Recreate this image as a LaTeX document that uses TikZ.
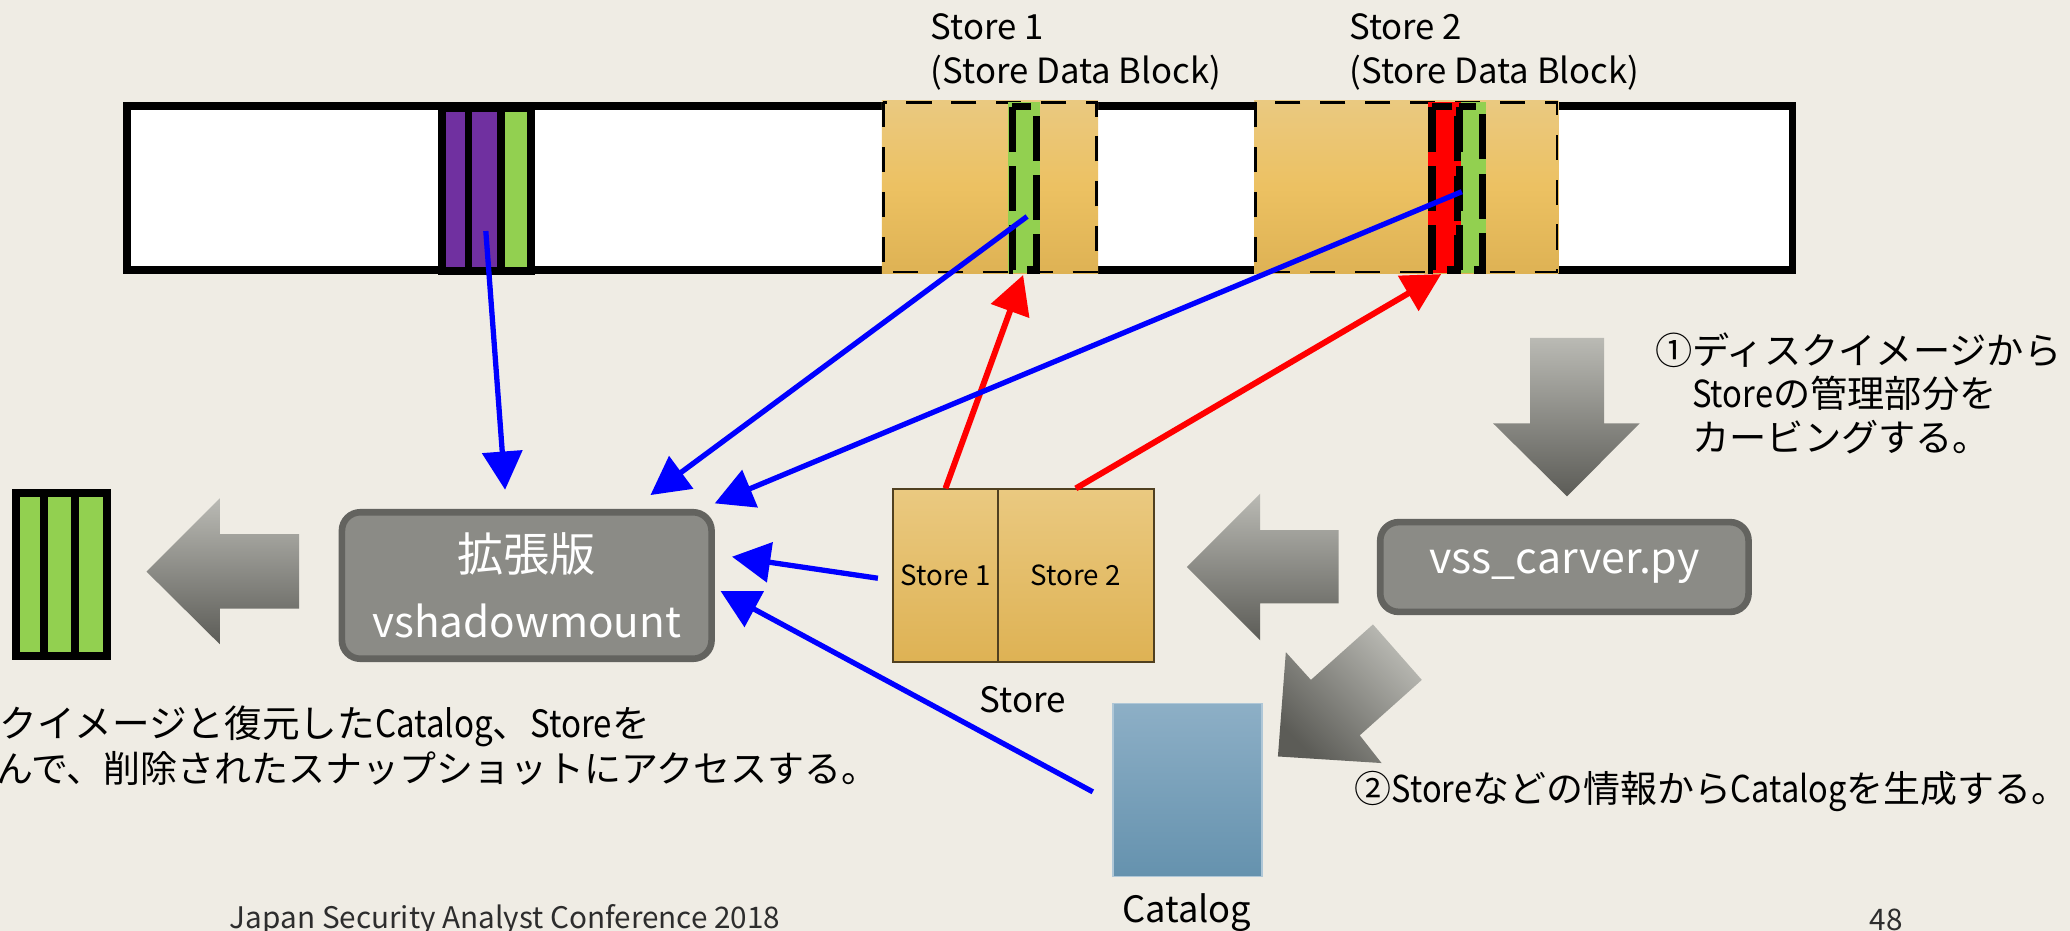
\documentclass[tikz,border=0pt]{standalone}
\usepackage{fontspec}
\setmainfont{Noto Sans CJK JP}
\newfontfamily\latnar{Noto Sans CJK JP}[FakeStretch=0.88]
\usetikzlibrary{arrows.meta}
\definecolor{bg}{RGB}{239,236,228}
\definecolor{purp}{RGB}{112,48,160}
\definecolor{grn}{RGB}{146,208,80}
\definecolor{tanTop}{RGB}{234,201,128}
\definecolor{tanMid}{RGB}{236,193,98}
\definecolor{tanBot}{RGB}{222,178,84}
\definecolor{boxFill}{RGB}{139,139,134}
\definecolor{boxLine}{RGB}{99,99,95}
\definecolor{arrTop}{RGB}{186,186,180}
\definecolor{arrBot}{RGB}{92,92,87}
\definecolor{catTop}{RGB}{141,175,198}
\definecolor{catBot}{RGB}{101,146,174}
\definecolor{storeLine}{RGB}{80,64,32}
\definecolor{bluel}{RGB}{0,0,255}
\definecolor{redl}{RGB}{255,0,0}
\definecolor{foot}{RGB}{45,45,45}
\begin{document}
\begin{tikzpicture}[x=1pt,y=-1pt,
  lbl/.style={inner sep=0pt, font=\fontsize{26.3}{34}\selectfont, anchor=base west},
  jtxt/.style={inner sep=0pt, font=\fontsize{28.2}{34}\selectfont, anchor=base west},
  blk/.style={draw=black, line width=6pt, inner sep=0pt},
  toolbox/.style={draw=boxLine, line width=5pt, fill=boxFill, rounded corners=14pt,
    text=white, align=center, inner sep=0pt},
  storebox/.style={draw=storeLine, line width=1.5pt, top color=tanTop, bottom color=tanBot,
    font=\fontsize{21}{24}\selectfont, inner sep=0pt, minimum height=130.6pt},
  bluearr/.style={draw=bluel, line width=4pt, -{Triangle[length=29pt,width=30pt]}},
  redarr/.style={draw=redl, line width=4.5pt, -{Triangle[length=29pt,width=30pt]}},
  blockarrow/.style={top color=arrTop, bottom color=arrBot, draw=none},
  tanzone/.style={top color=tanTop, bottom color=tanBot, middle color=tanMid, draw=none},
  zoneline/.style={draw=black, line width=2pt, dash pattern=on 19pt off 15pt},
  stripline/.style={draw=black, line width=5.5pt, dash pattern=on 34pt off 11pt},
]
\useasboundingbox (0,0) rectangle (1568,705);
\fill[bg] (0,0) rectangle (1568,705);

% disk image strip
\node[blk, fill=white, minimum width=1261.8pt, minimum height=124.5pt] (disk) at (726.9,142.55) {};

% catalog / store blocks at the start of the volume
\node[blk, fill=purp, minimum width=20.2pt, minimum height=123.5pt] (pb1) at (344.8,143.55) {};
\node[blk, fill=purp, minimum width=24.8pt, minimum height=123.5pt] (pb2) at (367.3,143.55) {};
\node[blk, fill=grn,  minimum width=22.8pt, minimum height=123.5pt] (gb1) at (391.1,143.55) {};

% store 1 data block
\shade[tanzone] (668,76.5) rectangle (831.8,207);
\draw[zoneline] (669,77.5) rectangle (830.8,206);
\fill[grn] (763.6,77.5) rectangle (787.9,207);
\draw[stripline] (766.7,80.8) rectangle (785.1,204.5);

% store 2 data block
\shade[tanzone] (950,76.5) rectangle (1180.5,207);
\draw[zoneline] (951,77.5) rectangle (1179.5,206);
\fill[redl] (1082,77.5) rectangle (1106.6,207);
\fill[grn] (1106.6,77.5) rectangle (1125.8,207);
\draw[stripline] (1084.8,80.8) rectangle (1103.8,204.5);
\draw[stripline] (1105.5,80.8) rectangle (1123,204.5);

% labels above the data blocks
\node[lbl] (s1a) at (705,30) {Store 1};
\node[lbl] (s1b) at (705,63) {(Store Data Block)};
\node[lbl] (s2a) at (1022,30) {Store 2};
\node[lbl] (s2b) at (1022,63) {(Store Data Block)};

% recovered blocks on the left
\node[blk, fill=grn, minimum width=21pt, minimum height=123.3pt] (rg1) at (22.5,435.35) {};
\node[blk, fill=grn, minimum width=24pt, minimum height=123.3pt] (rg2) at (45,435.35) {};
\node[blk, fill=grn, minimum width=24pt, minimum height=123.3pt] (rg3) at (69,435.35) {};

% tools
\node[toolbox, minimum width=280pt, minimum height=111pt, font=\fontsize{32}{50}\selectfont] (vsm) at (399,443.5)
  {{\fontsize{35}{50}\selectfont 拡張版}\\vshadowmount};
\node[toolbox, minimum width=279pt, minimum height=68pt, font=\fontsize{32.5}{42}\selectfont] (vss) at (1185,429.5) {vss\_carver.py};

% carved stores and catalog
\node[storebox, minimum width=79.6pt] (st1) at (716.2,436) {Store 1};
\node[storebox, minimum width=117.8pt] (st2) at (814.9,436) {Store 2};
\node[draw=catTop!70!white, line width=1pt, top color=catTop, bottom color=catBot,
  minimum width=113pt, minimum height=131pt, inner sep=0pt] (cat) at (899.5,598.5) {};
\node[lbl, anchor=base, font=\fontsize{26.5}{30}\selectfont] (stlab) at (775,540) {Store};
\node[lbl, anchor=base, font=\fontsize{27.5}{30}\selectfont] (catlab) at (899,699) {Catalog};

% process arrows
\shade[blockarrow] (111,433) -- (166.5,377.5) -- (166.5,404.5) -- (226.5,404.5)
  -- (226.5,461) -- (166.5,461) -- (166.5,488) -- cycle;
\shade[blockarrow] (899,429.5) -- (954.6,374) -- (954.6,401.5) -- (1014,401.5)
  -- (1014,457) -- (954.6,457) -- (954.6,485) -- cycle;
\shade[blockarrow] (1159,256) -- (1215,256) -- (1215,320.7) -- (1242,320.7)
  -- (1187,376) -- (1131,320.7) -- (1159,320.7) -- cycle;
\shade[top color=arrTop, bottom color=arrBot, shading angle=-45, draw=none]
  (968,573) -- (974,494) -- (993,515) -- (1040,473) -- (1077,515) -- (1030,557)
  -- (1046.5,578) -- cycle;

% step descriptions
\node[jtxt] (d1a) at (1253.5,276) {①ディスクイメージから};
\node[jtxt] (d1b) at (1253.5,309) {\hspace*{1em}{\latnar Store}の管理部分を};
\node[jtxt] (d1c) at (1253.5,342) {\hspace*{1em}カービングする。};
\node[jtxt, anchor=base east, font=\fontsize{28}{34}\selectfont] (d2) at (1567,608) {②{\latnar Store}などの情報から{\latnar Catalog}を生成する。};
\node[jtxt, font=\fontsize{28.5}{34}\selectfont] (d3a) at (-0.5,559) {クイメージと復元した{\latnar Catalog}、{\latnar Store}を};
\node[jtxt, font=\fontsize{28}{34}\selectfont] (d3b) at (-3,593) {んで、削除されたスナップショットにアクセスする。};

% footer
\node[lbl, font=\fontsize{22.5}{26}\selectfont, text=foot] (footl) at (174,703.5) {Japan Security Analyst Conference 2018};
\node[lbl, font=\fontsize{22.5}{26}\selectfont, text=foot] (pg) at (1416,705) {48};

% connectors
\coordinate (p2) at (368,175);
\coordinate (g1) at (778,164);
\coordinate (g2) at (1107.3,145.2);
\coordinate (s1w) at (665,438);
\coordinate (catw) at (827.8,599.8);
\coordinate (ta) at (382.6,371);
\coordinate (tb) at (492.7,375);
\coordinate (tc) at (541.4,381.3);
\coordinate (td) at (554.5,421.7);
\coordinate (te) at (545.8,447.7);
\coordinate (r1) at (775,208.3);
\coordinate (r2) at (1091.7,207.6);

\draw[redarr] (st1.north) -- (r1);
\draw[redarr] (st2.north) -- (r2);
\draw[bluearr] (p2) -- (ta);
\draw[bluearr] (g1) -- (tb);
\draw[bluearr] (g2) -- (tc);
\draw[bluearr] (s1w) -- (td);
\draw[bluearr] (catw) -- (te);
\end{tikzpicture}
\end{document}
